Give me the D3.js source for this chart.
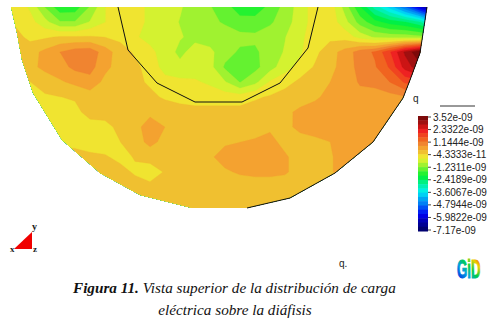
<!DOCTYPE html>
<html>
<head>
    <title>Figura 11</title>
    <script src="https://d3js.org/d3.v7.min.js"></script>
    <style>
        html, body { margin: 0; background: #fff; }
        svg { display: block; }
    </style>
</head>
<body>
<script>
const width = 493;
const height = 320;

// charge q (in units of 1e-9), on a regular model grid
const gridX = d3.range(0, 436, 15);
const gridY = d3.range(7, 218, 15);
const qGrid = [
    [-.2,-.2,-.5,-1.25,-1.9,-1.85,-1.2,-.45,-.25,-.25,-.55,-.7,-.8,-1,-1.2,-1.5,-1.8,-1.9,-1.5,-1.1,-.65,-.25,-.2,-1,-2,-3,-3.8,-4.8,-6,-7],
    [-.1,-.1,-.3,-.7,-1.2,-1.2,-.8,-.45,-.2,-.25,-.55,-.7,-.85,-1.05,-1.1,-1.3,-1.5,-1.45,-1.3,-1,-.65,-.25,-.2,-.7,-1.4,-1.9,-2.2,-2.4,-2.8,-4],
    [.1,.1,-.15,-.1,0,0,0,-.05,-.15,-.4,-.55,-.7,-.8,-.95,-1,-.95,-1.1,-1.15,-1,-.85,-.55,-.2,-.15,-.2,-.6,-.9,-1,-1,-1.1,-1.2],
    [.2,.2,.2,.45,.75,.95,1,.55,.15,-.1,-.35,-.6,-.95,-.65,-.75,-1.05,-1.3,-1.3,-1.05,-.8,-.5,-.15,.2,.5,.95,1.2,1.9,2.8,3.5,3.5],
    [.2,.15,.25,.45,.6,.85,.9,.45,.2,.05,-.2,-.6,-.7,-.6,-.7,-1.3,-1.4,-1.35,-1,-.6,-.3,0,.25,.5,.9,1.1,1.6,2.5,3,3],
    [0,.1,-.05,.15,.3,.45,.6,.25,.15,.05,-.1,-.3,-.35,-.4,-.5,-.8,-1.25,-.95,-.4,-.2,.05,.2,.35,.5,.8,.85,1.15,1.6,1.8,1.8],
    [-.1,-.1,-.2,-.1,-.05,0,.15,.2,.15,.1,.05,-.1,-.2,-.25,-.25,-.25,-.25,-.1,0,.15,.25,.3,.45,.55,.6,.6,.6,.7,.8,.8],
    [-.2,-.2,-.2,-.2,-.2,-.15,.1,.1,.1,.15,.2,.2,.15,.1,.1,.1,.1,.15,.2,.3,.4,.5,.55,.55,.55,.55,.55,.5,.5,.5],
    [-.2,-.2,-.2,-.2,-.2,-.2,-.2,-.15,.05,.15,.65,.35,.2,.15,.2,.15,.2,.2,.3,.25,.45,.55,.55,.55,.55,.5,.5,.5,.5,.5],
    [-.2,-.2,-.2,-.2,-.15,-.15,-.25,-.25,-.05,.2,.45,.25,.15,.2,.3,.3,.35,.4,.45,.25,.2,.25,.35,.55,.55,.5,.5,.5,.5,.5],
    [-.2,-.2,-.2,-.2,.15,.1,.05,0,-.15,-.02,.15,.2,.15,.15,.3,.5,.55,.55,.55,.4,.2,.15,.3,.55,.55,.5,.5,.5,.5,.5],
    [.2,.2,.2,.2,.2,.2,.2,.2,.1,-.1,-.3,0,.15,.15,.2,.3,.4,.45,.45,.4,.2,.15,.3,.55,.55,.5,.5,.5,.5,.5],
    [.15,.15,.15,.15,.15,.15,.15,.15,.15,.15,.1,.15,.15,.15,.15,.15,.15,.15,.15,.15,.15,.15,.15,.15,.15,.15,.15,.15,.15,.15],
    [.15,.15,.15,.15,.15,.15,.15,.15,.15,.15,.15,.15,.15,.15,.15,.15,.15,.15,.15,.15,.15,.15,.15,.15,.15,.15,.15,.15,.15,.15],
    [.15,.15,.15,.15,.15,.15,.15,.15,.15,.15,.15,.15,.15,.15,.15,.15,.15,.15,.15,.15,.15,.15,.15,.15,.15,.15,.15,.15,.15,.15]
];

// colour bar, top band first
const bandColors = [
    "#7d0a0a","#a01010","#cc1414","#ee2222","#f04420","#f06420","#f08430","#f4a230","#f0c030",
    "#f0e430","#d4f230","#a0f230","#64f230","#24f230","#00f046","#00f080","#00f0b4","#00f0e4",
    "#00d0f4","#00a4f4","#0080f4","#0050f4","#0020f4","#0000e4","#0000b8","#000094","#000070"
];
const tickLabels = ["3.52e-09","2.3322e-09","1.1444e-09","-4.3333e-11","-1.2311e-09","-2.4189e-09",
    "-3.6067e-09","-4.7944e-09","-5.9822e-09","-7.17e-09"];
const qMax = 3.52;
const qMin = -7.17;

// outline of the piece and the inner contour, model units
const outerEdge = [[11,7],[17,33],[22,60],[33,93],[62,140],[100,173],[140,195],[192,208],[247,208],
    [290,198],[335,173],[373,142],[403,98],[410,80],[420,53],[427,7]];
const blackEdge = [[247,208],[290,198],[335,173],[373,142],[403,98],[410,80],[420,53],[427,7]];
const innerEdge = [[118,7],[128,50],[157,83],[195,102],[242,102],[280,83],[308,48],[318,7]];

const svg = d3.select("body").append("svg")
    .attr("width", width)
    .attr("height", height);

const x = d3.scaleLinear().domain([0, 435]).range([0, 435]);
const y = d3.scaleLinear().domain([7, 217]).range([7, 217]);
const line = d3.line().x(d => x(d[0])).y(d => y(d[1]));

// grid index -> model units, d3.contours puts sample i at i + 0.5
const colScale = d3.scaleLinear().domain([0.5, gridX.length - 0.5]).range([gridX[0], gridX[gridX.length - 1]]);
const rowScale = d3.scaleLinear().domain([0.5, gridY.length - 0.5]).range([gridY[0], gridY[gridY.length - 1]]);
const path = d3.geoPath(d3.geoTransform({
    point(px, py) { this.stream.point(x(colScale(px)), y(rowScale(py))); }
}));

svg.append("clipPath").attr("id", "piece")
    .append("path").attr("d", line(outerEdge) + "Z");

// lowest band first, every next one painted on top
const bandStep = (qMax - qMin) / bandColors.length;
const thresholds = bandColors.map((c, i) => qMax - (i + 1) * bandStep).reverse();
const fills = bandColors.slice().reverse();

const contours = d3.contours()
    .size([gridX.length, gridY.length])
    .smooth(true)
    .thresholds(thresholds)(qGrid.flat());

svg.append("g").attr("clip-path", "url(#piece)")
    .selectAll("path")
    .data(contours)
    .enter()
    .append("path")
    .attr("d", path)
    .attr("fill", (d, i) => fills[i])
    .attr("stroke", (d, i) => fills[i])
    .attr("stroke-width", 0.3);

svg.append("path").attr("d", line(blackEdge))
    .attr("fill", "none").attr("stroke", "#111").attr("stroke-width", 1);
svg.append("path").attr("d", line(innerEdge))
    .attr("fill", "none").attr("stroke", "#111").attr("stroke-width", 1);

// colour bar
const barY = d3.scaleLinear().domain([qMax, qMin]).range([116, 231]);
const bar = svg.append("g");
bar.selectAll("rect")
    .data(bandColors)
    .enter()
    .append("rect")
    .attr("x", 418)
    .attr("width", 10)
    .attr("y", (d, i) => barY(qMax - i * bandStep))
    .attr("height", barY(0) - barY(bandStep) + 0.5)
    .attr("fill", d => d);

const tickY = d3.scalePoint().domain(tickLabels).range([barY(qMax) + 1, barY(qMin) - 1]);
const labelFont = "'Liberation Sans', Arial, sans-serif";
bar.selectAll("line")
    .data(tickLabels)
    .enter()
    .append("line")
    .attr("x1", 428).attr("x2", 431)
    .attr("y1", d => tickY(d)).attr("y2", d => tickY(d))
    .attr("stroke", "#444");
bar.selectAll("text")
    .data(tickLabels)
    .enter()
    .append("text")
    .attr("x", 433)
    .attr("y", d => tickY(d) + 3.5)
    .attr("font-family", labelFont)
    .attr("font-size", 10)
    .attr("fill", "#222")
    .text(d => d);

svg.append("line").attr("x1", 440).attr("x2", 475).attr("y1", 106).attr("y2", 106)
    .attr("stroke", "#333");

function label(t, px, py, size, family, weight) {
    return svg.append("text").attr("x", px).attr("y", py)
        .attr("font-family", family).attr("font-size", size)
        .attr("font-weight", weight || "normal").attr("fill", "#222").text(t);
}
label("q", 413, 102, 10, labelFont);
label("q.", 339, 267, 10, labelFont);

// axes triad
const triad = [[14, 249], [32, 232], [32, 249]];
svg.append("path").attr("d", line(triad) + "Z").attr("fill", "#f00000");
const serif = "'Liberation Serif', 'Times New Roman', serif";
label("x", 10, 252, 9, serif, "bold");
label("y", 32, 230, 10, serif, "bold");
label("z", 33, 252, 9, serif, "bold");

// GiD logo
const grad = svg.append("linearGradient").attr("id", "gidGrad")
    .attr("x1", 0).attr("x2", 1).attr("y1", 1).attr("y2", 0);
grad.append("stop").attr("offset", "0%").attr("stop-color", "#0000e0");
grad.append("stop").attr("offset", "35%").attr("stop-color", "#00a0e0");
grad.append("stop").attr("offset", "55%").attr("stop-color", "#00d040");
grad.append("stop").attr("offset", "75%").attr("stop-color", "#f0d000");
grad.append("stop").attr("offset", "100%").attr("stop-color", "#e00000");
svg.append("text")
    .attr("transform", "translate(457,278) scale(0.95,1.85)")
    .attr("font-family", labelFont)
    .attr("font-weight", "bold")
    .attr("font-size", 14)
    .attr("fill", "url(#gidGrad)")
    .attr("stroke", "url(#gidGrad)")
    .attr("stroke-width", 0.5)
    .text("GiD");

// caption
const caption = svg.append("g")
    .attr("font-family", serif)
    .attr("font-size", 15.2)
    .attr("font-style", "italic")
    .attr("fill", "#111");
const line1 = caption.append("text").attr("x", 73).attr("y", 293);
line1.append("tspan").attr("font-weight", "bold").text("Figura 11.");
line1.append("tspan").text(" Vista superior de la distribución de carga");
caption.append("text").attr("x", 235).attr("y", 315).attr("text-anchor", "middle")
    .text("eléctrica sobre la diáfisis");
</script>
</body>
</html>
